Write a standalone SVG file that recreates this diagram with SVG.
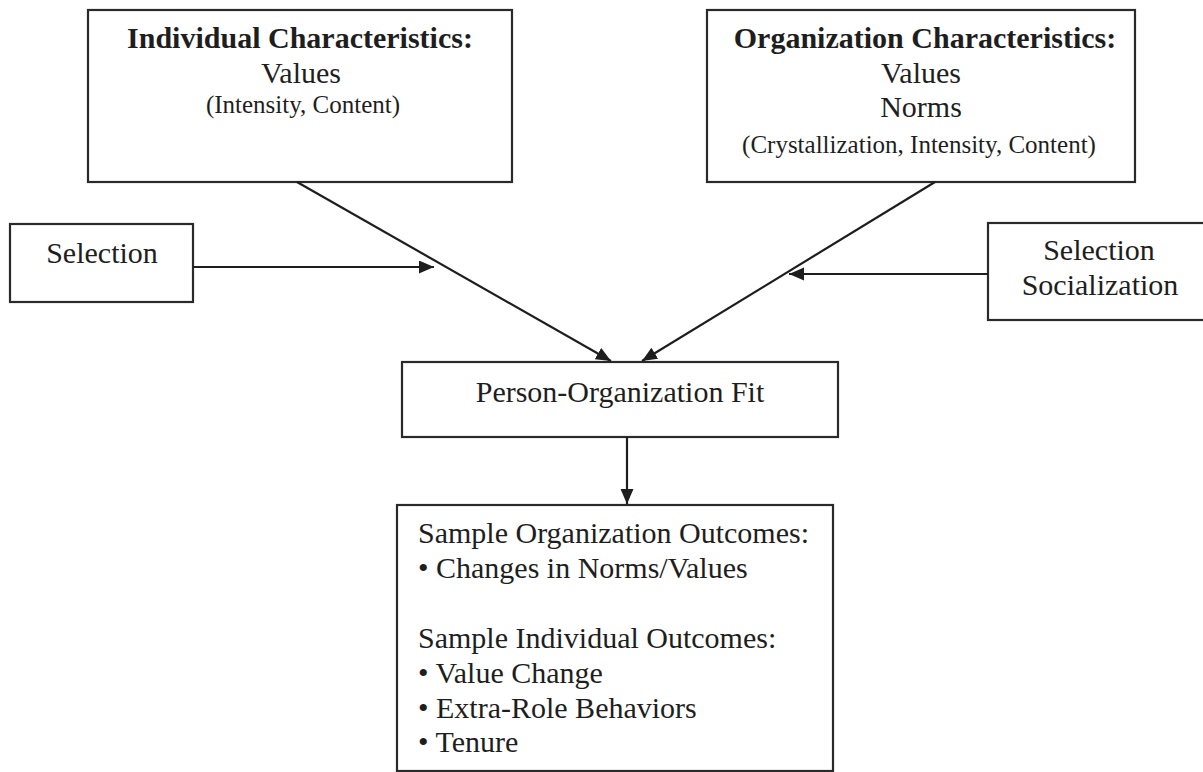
<svg xmlns="http://www.w3.org/2000/svg" width="1203" height="772" viewBox="0 0 1203 772">
  <style>
    .box { fill: #ffffff; stroke: #2a2a2a; stroke-width: 2.2; }
    .t { font-family: "Liberation Serif", "Times New Roman", serif; fill: #1e1e1e; font-size: 30px; }
    .b { font-weight: bold; }
    .s { font-size: 25px; }
    .c { text-anchor: middle; }
    .conn { stroke: #1e1e1e; stroke-width: 2.2; fill: none; marker-end: url(#arr); }
  </style>
  <defs>
    <marker id="arr" markerUnits="userSpaceOnUse" markerWidth="16" markerHeight="14" refX="15" refY="6.5" orient="auto">
      <path d="M0,0 L15,6.5 L0,13 z" fill="#1e1e1e"/>
    </marker>
  </defs>
  <rect width="1203" height="772" fill="#ffffff"/>

  <g id="individual">
    <rect class="box" x="88" y="10" width="424" height="172"/>
    <text class="t b c" x="300" y="48">Individual Characteristics:</text>
    <text class="t c" x="301" y="83">Values</text>
    <text class="t s c" x="303" y="113">(Intensity, Content)</text>
  </g>

  <g id="organization">
    <rect class="box" x="707" y="10" width="428" height="172"/>
    <text class="t b c" x="925" y="48">Organization Characteristics:</text>
    <text class="t c" x="921" y="83">Values</text>
    <text class="t c" x="921" y="117">Norms</text>
    <text class="t s c" x="919" y="153">(Crystallization, Intensity, Content)</text>
  </g>

  <g id="selection">
    <rect class="box" x="10" y="224" width="183" height="78"/>
    <text class="t c" x="102" y="263">Selection</text>
  </g>

  <g id="selection-socialization">
    <rect class="box" x="988" y="223" width="225" height="97"/>
    <text class="t c" x="1099" y="260">Selection</text>
    <text class="t c" x="1100" y="295">Socialization</text>
  </g>

  <g id="fit">
    <rect class="box" x="402" y="362" width="436" height="75"/>
    <text class="t c" x="620" y="402">Person-Organization Fit</text>
  </g>

  <g id="outcomes">
    <rect class="box" x="397" y="505" width="436" height="266"/>
    <text class="t" x="418" y="543">Sample Organization Outcomes:</text>
    <text class="t" x="418" y="578">• Changes in Norms/Values</text>
    <text class="t" x="418" y="648">Sample Individual Outcomes:</text>
    <text class="t" x="418" y="683">• Value Change</text>
    <text class="t" x="418" y="718">• Extra-Role Behaviors</text>
    <text class="t" x="418" y="752">• Tenure</text>
  </g>

  <g id="connectors">
    <line class="conn" x1="297" y1="182" x2="611" y2="361"/>
    <line class="conn" x1="935" y1="182" x2="642" y2="361"/>
    <line class="conn" x1="193" y1="267" x2="434" y2="267"/>
    <line class="conn" x1="988" y1="274" x2="789" y2="274"/>
    <line class="conn" x1="627" y1="437" x2="627" y2="504"/>
  </g>
</svg>
